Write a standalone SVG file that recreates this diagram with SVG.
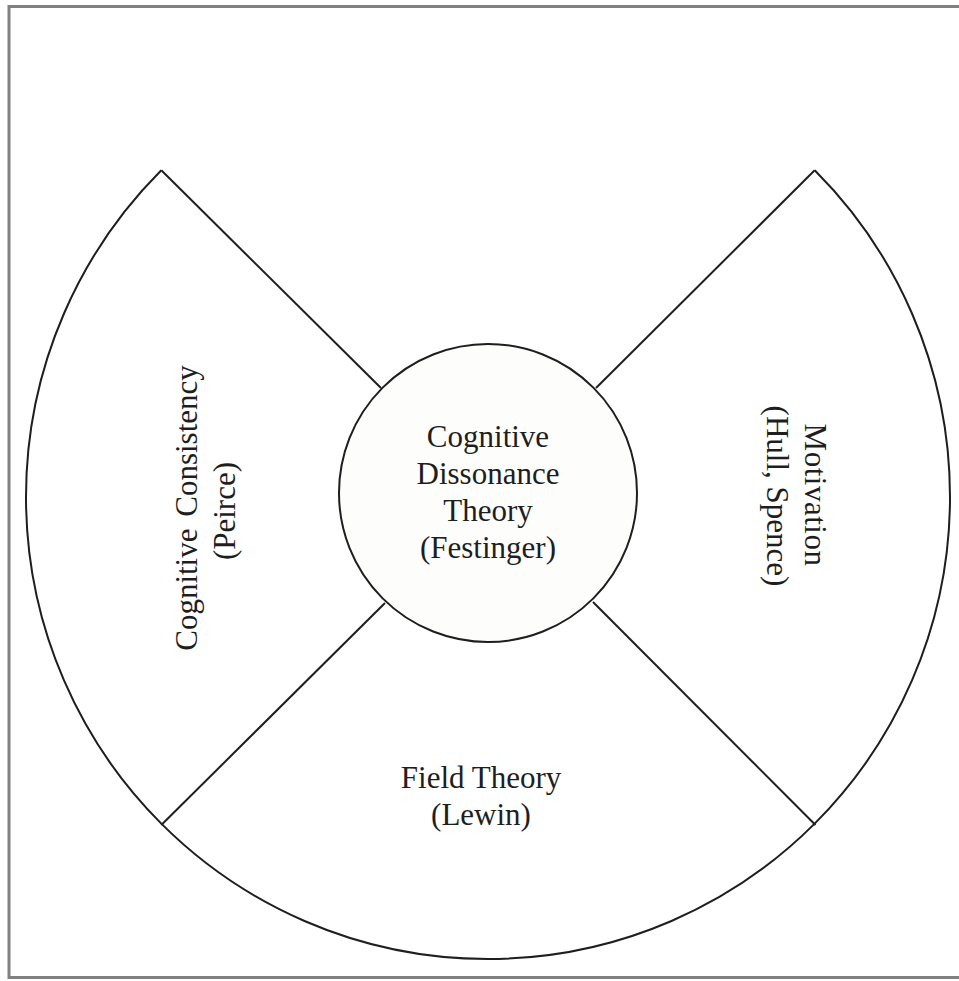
<svg xmlns="http://www.w3.org/2000/svg" width="959" height="981" viewBox="0 0 959 981">
<style>
.frame{fill:none;stroke:#808080;stroke-width:3}
.shape{fill:none;stroke:#1e1e1e;stroke-width:2}
.hub{fill:#fdfdfb;stroke:#1e1e1e;stroke-width:2}
.lbl{font-family:"Liberation Serif","Times New Roman",serif;font-size:31px;fill:#1e1e1e;text-anchor:middle}
</style>
<rect class="frame" x="9" y="6.5" width="952" height="971"/>
<g id="outer-ring">
<path class="shape" d="M161.3,170.3 A462,462 0 1,0 814.7,170.3"/>
</g>
<g id="connectors">
<line class="shape" x1="161.3" y1="170.3" x2="381" y2="388"/>
<line class="shape" x1="814.7" y1="170.3" x2="596" y2="388"/>
<line class="shape" x1="161.3" y1="825" x2="385" y2="603"/>
<line class="shape" x1="815.5" y1="825" x2="593" y2="602"/>
</g>
<g id="node-center">
<circle class="hub" cx="488" cy="493" r="149"/>
<text class="lbl" x="488" y="447">Cognitive</text>
<text class="lbl" x="488" y="484">Dissonance</text>
<text class="lbl" x="488" y="521">Theory</text>
<text class="lbl" x="488" y="558">(Festinger)</text>
</g>
<g id="node-left">
<text class="lbl" transform="rotate(-90 197 508)" x="197" y="508" style="word-spacing:4px">Cognitive Consistency</text>
<text class="lbl" transform="rotate(-90 235 511)" x="235" y="511">(Peirce)</text>
</g>
<g id="node-right">
<text class="lbl" transform="rotate(90 805 495)" x="805" y="495" style="letter-spacing:0.5px">Motivation</text>
<text class="lbl" transform="rotate(90 767 496)" x="767" y="496">(Hull, Spence)</text>
</g>
<g id="node-bottom">
<text class="lbl" x="481" y="788">Field Theory</text>
<text class="lbl" x="481" y="825">(Lewin)</text>
</g>
</svg>
